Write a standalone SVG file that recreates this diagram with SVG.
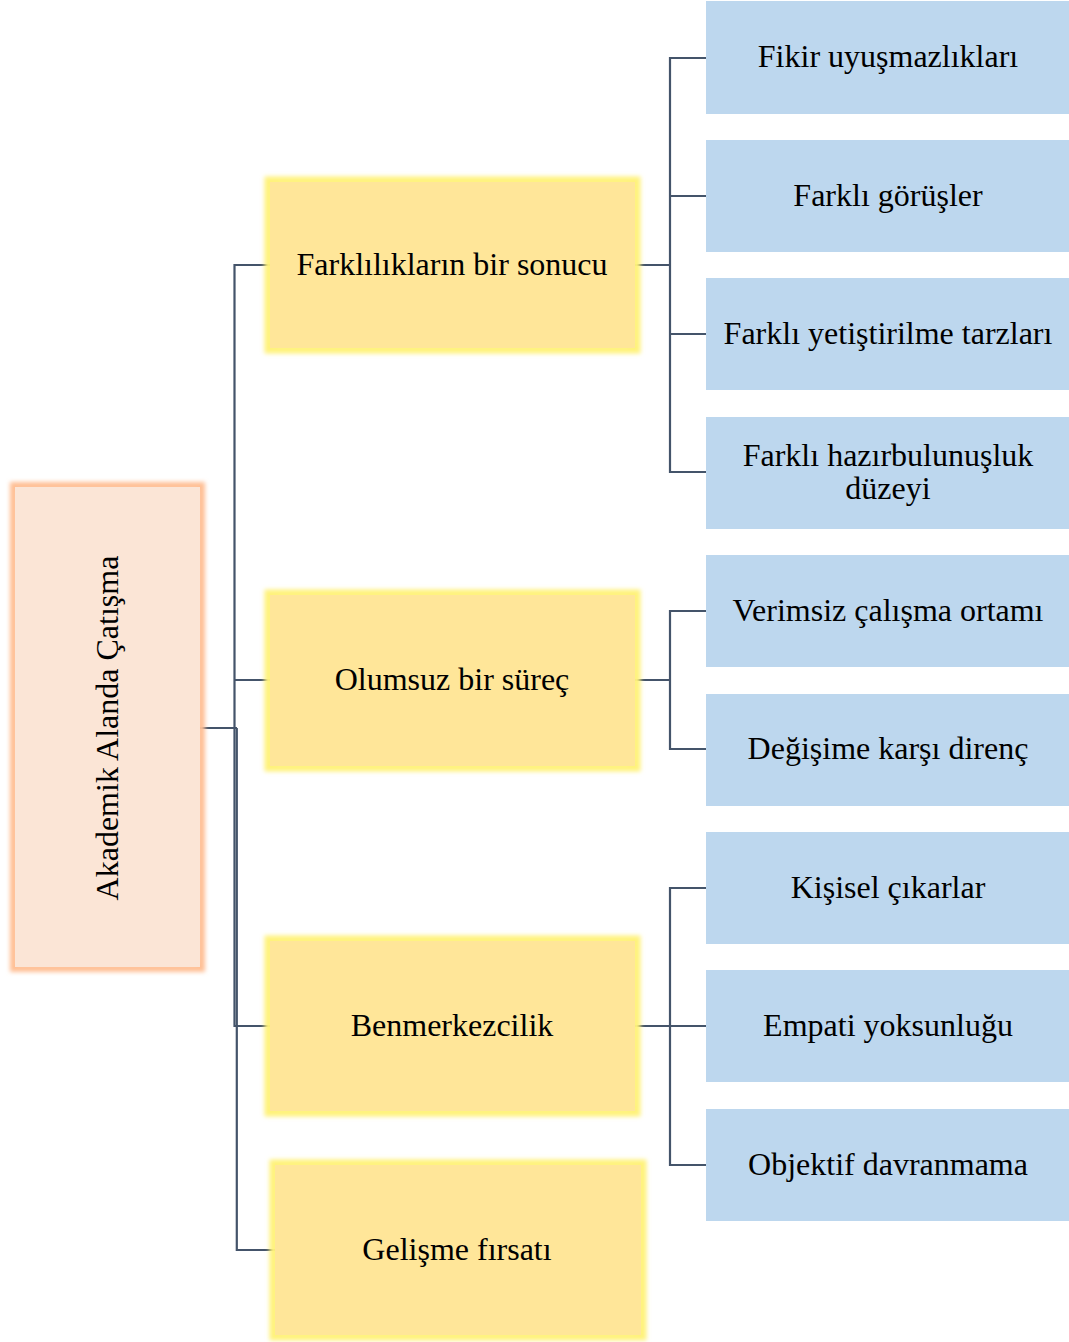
<svg xmlns="http://www.w3.org/2000/svg" width="1069" height="1342" viewBox="0 0 1069 1342">
  <style>
    text { font-family: "Liberation Serif", "Times New Roman", serif; font-size: 32px; fill: #000; text-anchor: middle; dominant-baseline: central; }
    .conn { stroke: #44546A; stroke-width: 2.2; fill: none; }
    .root-fill { fill: #FBE5D6; }
    .root-glow { fill: none; stroke: #FFBF94; stroke-width: 8; filter: url(#soft); }
    .mid-fill { fill: #FFE699; }
    .mid-glow { fill: none; stroke: #FFF27A; stroke-width: 9; filter: url(#soft); }
    .leaf { fill: #BDD7EE; }
  </style>
  <defs>
    <filter id="soft" x="-10%" y="-10%" width="120%" height="120%">
      <feGaussianBlur stdDeviation="2.2"/>
    </filter>
  </defs>

  <!-- connectors -->
  <g id="connectors">
    <!-- root to second level -->
    <path class="conn" d="M200 728 H237"/>
    <path class="conn" d="M270 265 H234.5 V1026 H270"/>
    <path class="conn" d="M234.5 680 H270"/>
    <path class="conn" d="M236.8 728 V1250 H275"/>
    <!-- Farklılıkların bir sonucu -->
    <path class="conn" d="M635 265 H670"/>
    <path class="conn" d="M706 58 H670 V472 H706"/>
    <path class="conn" d="M670 196 H706 M670 334 H706"/>
    <!-- Olumsuz bir süreç -->
    <path class="conn" d="M635 680 H670"/>
    <path class="conn" d="M706 611 H670 V749 H706"/>
    <!-- Benmerkezcilik -->
    <path class="conn" d="M635 1026 H706"/>
    <path class="conn" d="M706 888 H670 V1165 H706"/>
  </g>

  <!-- root -->
  <g id="root">
    <rect class="root-glow" x="14" y="486" width="187" height="482"/>
    <rect class="root-fill" x="15" y="487" width="185" height="480"/>
    <text transform="translate(107 728) rotate(-90)">Akademik Alanda Çatışma</text>
  </g>

  <!-- second level -->
  <g id="n-farkliliklar">
    <rect class="mid-glow" x="269" y="181" width="367" height="168"/>
    <rect class="mid-fill" x="270" y="182" width="365" height="166"/>
    <text x="452" y="264">Farklılıkların bir sonucu</text>
  </g>
  <g id="n-olumsuz">
    <rect class="mid-glow" x="269" y="594" width="367" height="173"/>
    <rect class="mid-fill" x="270" y="595" width="365" height="171"/>
    <text x="452" y="679">Olumsuz bir süreç</text>
  </g>
  <g id="n-benmerkezcilik">
    <rect class="mid-glow" x="269" y="940" width="367" height="172"/>
    <rect class="mid-fill" x="270" y="941" width="365" height="170"/>
    <text x="452" y="1025">Benmerkezcilik</text>
  </g>
  <g id="n-gelisme">
    <rect class="mid-glow" x="274" y="1164" width="368" height="172"/>
    <rect class="mid-fill" x="275" y="1165" width="366" height="170"/>
    <text x="457" y="1249">Gelişme fırsatı</text>
  </g>

  <!-- third level -->
  <g id="n-fikir">
    <rect class="leaf" x="706" y="1" width="363" height="113"/>
    <text x="888" y="56">Fikir uyuşmazlıkları</text>
  </g>
  <g id="n-gorusler">
    <rect class="leaf" x="706" y="140" width="363" height="112"/>
    <text x="888" y="195">Farklı görüşler</text>
  </g>
  <g id="n-yetistirilme">
    <rect class="leaf" x="706" y="278" width="363" height="112"/>
    <text x="888" y="333">Farklı yetiştirilme tarzları</text>
  </g>
  <g id="n-hazirbulunusluk">
    <rect class="leaf" x="706" y="417" width="363" height="112"/>
    <text x="888" y="455">Farklı hazırbulunuşluk</text>
    <text x="888" y="488">düzeyi</text>
  </g>
  <g id="n-verimsiz">
    <rect class="leaf" x="706" y="555" width="363" height="112"/>
    <text x="888" y="610">Verimsiz çalışma ortamı</text>
  </g>
  <g id="n-direnc">
    <rect class="leaf" x="706" y="694" width="363" height="112"/>
    <text x="888" y="748">Değişime karşı direnç</text>
  </g>
  <g id="n-kisisel">
    <rect class="leaf" x="706" y="832" width="363" height="112"/>
    <text x="888" y="887">Kişisel çıkarlar</text>
  </g>
  <g id="n-empati">
    <rect class="leaf" x="706" y="970" width="363" height="112"/>
    <text x="888" y="1025">Empati yoksunluğu</text>
  </g>
  <g id="n-objektif">
    <rect class="leaf" x="706" y="1109" width="363" height="112"/>
    <text x="888" y="1164">Objektif davranmama</text>
  </g>
</svg>
